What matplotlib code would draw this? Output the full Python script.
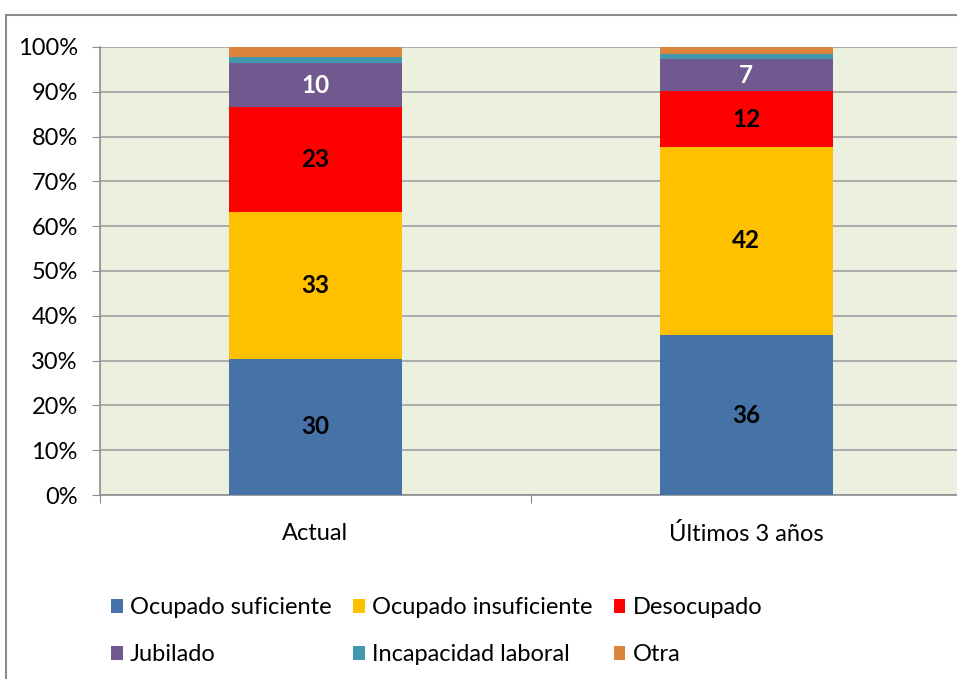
import numpy as np
import matplotlib.pyplot as plt
from matplotlib.patches import Rectangle
from matplotlib.ticker import FixedLocator

plt.rcParams['font.family'] = ['Lato', 'DejaVu Sans']

categorias = ["Actual", "Últimos 3 años"]
series = ["Ocupado suficiente", "Ocupado insuficiente", "Desocupado",
          "Jubilado", "Incapacidad laboral", "Otra"]
ocupado_suf = [30.4, 35.7]
ocupado_insuf = [32.8, 42.0]
desocupado = [23.4, 12.4]
jubilado = [9.8, 7.2]
incapacidad = [1.3, 1.2]
otra = [2.3, 1.5]
valores = [ocupado_suf, ocupado_insuf, desocupado, jubilado, incapacidad, otra]

colores = ["#4572A7", "#FFC000", "#FF0000", "#71588F", "#4198AF", "#DB843D"]
con_etiqueta = [True, True, True, True, False, False]
color_texto = ["black", "black", "black", "white", "black", "black"]

fig = plt.figure(figsize=(9.57, 6.79), dpi=100)
fig.patches.append(Rectangle((6 / 957, -0.1), 1.2, 1 - 15 / 679 + 0.1,
                             transform=fig.transFigure, fill=False,
                             edgecolor="#8C8C8C", linewidth=1.5))

ax = fig.add_axes([100 / 957, 1 - 495 / 679, 1 - 100 / 957 + 0.005, (495 - 47) / 679])
ax.set_facecolor("#EBF1DE")

x = np.arange(len(categorias))
ancho = 0.4
base = np.zeros(len(categorias))
handles = []
for nombre, vals, col, etq, ct in zip(series, valores, colores, con_etiqueta, color_texto):
    vals = np.array(vals)
    b = ax.bar(x, vals, ancho, bottom=base, color=col, label=nombre, zorder=3)
    handles.append(b)
    if etq:
        for xi, v, bo in zip(x, vals, base):
            ax.text(xi, bo + v / 2, f"{v:.0f}", ha="center", va="center",
                    fontsize=17.5, fontweight="bold", color=ct, zorder=4)
    base = base + vals

ax.set_ylim(0, 100)
ax.set_xlim(-0.5, 1.5)
ax.set_yticks(np.arange(0, 101, 10))
ax.set_yticklabels([f"{t}%" for t in range(0, 101, 10)], fontsize=17)
ax.yaxis.grid(True, color="#A0A0A0", linewidth=1.2, zorder=1)
ax.tick_params(axis="y", length=6, color="#8C8C8C", pad=10)

ax.set_xticks([-0.5, 0.5, 1.5])
ax.set_xticklabels([])
ax.tick_params(axis="x", which="major", length=6, color="#8C8C8C")
ax.xaxis.set_minor_locator(FixedLocator(x))
ax.set_xticklabels(categorias, minor=True, fontsize=17)
ax.tick_params(axis="x", which="minor", length=0, pad=20)

for s in ["top", "right"]:
    ax.spines[s].set_visible(False)
for s in ["left", "bottom"]:
    ax.spines[s].set_color("#8C8C8C")
    ax.spines[s].set_linewidth(1.2)

orden = [0, 3, 1, 4, 2, 5]
leg = fig.legend([handles[i] for i in orden], [series[i] for i in orden],
                 ncol=3, loc="upper left", bbox_to_anchor=(90 / 957, 1 - 576 / 679),
                 frameon=False, fontsize=17, handlelength=0.5, handleheight=0.5,
                 handletextpad=0.3, columnspacing=0.9, labelspacing=1.1)

fig.savefig("out.png", dpi=100)
